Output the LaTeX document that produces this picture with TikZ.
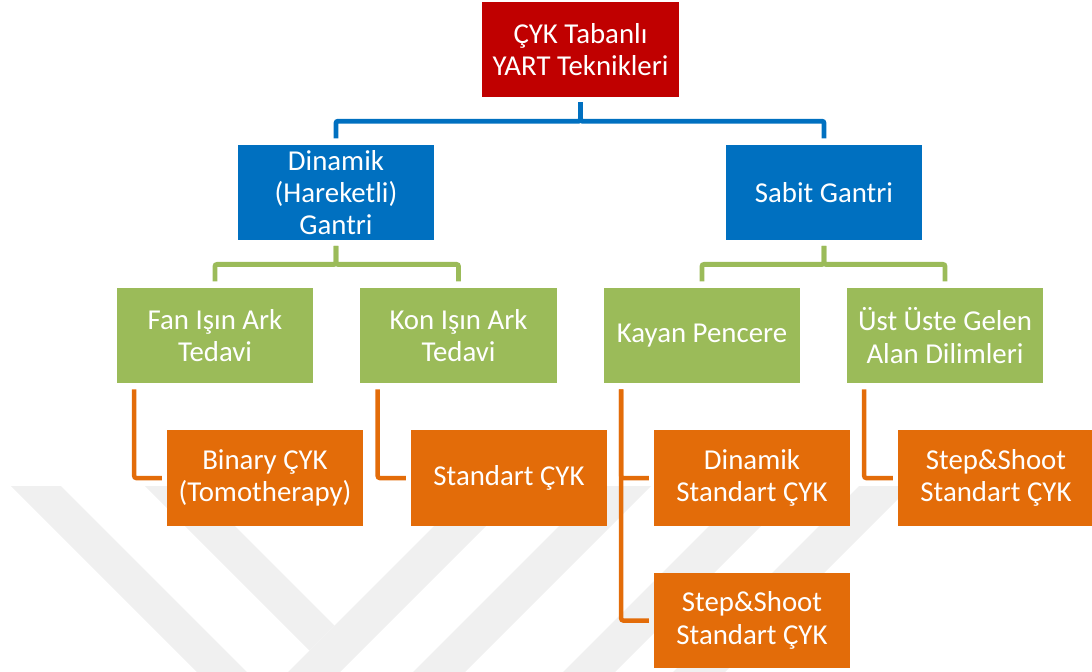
\documentclass[tikz,border=0pt]{standalone}
\usepackage{fontspec}
\setmainfont{Carlito}
\usetikzlibrary{calc}
\definecolor{kirmizi}{HTML}{C00000}
\definecolor{mavi}{HTML}{0070C0}
\definecolor{yesil}{HTML}{9BBB59}
\definecolor{turuncu}{HTML}{E36C09}
\definecolor{filigran}{HTML}{F0F0F0}
\begin{document}
\begin{tikzpicture}[x=0.025cm,y=-0.025cm,
    kutu/.style={minimum width=4.9cm,minimum height=2.375cm,inner sep=0pt,
      align=center,text=white,font=\fontsize{20.5}{23}\selectfont},
    kokkutu/.style={kutu,fill=kirmizi},
    mavikutu/.style={kutu,fill=mavi},
    yesilkutu/.style={kutu,fill=yesil},
    turuncukutu/.style={kutu,fill=turuncu},
    bag/.style={line width=3.5pt,rounded corners=1.5pt},
    mavibag/.style={bag,draw=mavi},
    yesilbag/.style={bag,draw=yesil},
    turuncubag/.style={bag,draw=turuncu,line width=3.2pt}]
    \useasboundingbox (0,0) rectangle (1092,671);
    % filigran
    \begin{scope}
        \clip (0,486) rectangle (900,671);
        \fill[filigran] (11,486)--(61,486)--(275,700)--(225,700)--cycle;
        \fill[filigran] (145,486)--(195,486)--(334.5,625.5)--(309.5,650.5)--cycle;
        \fill[filigran] (474,486)--(526,486)--(312,700)--(260,700)--cycle;
        \fill[filigran] (599,486)--(651,486)--(437,700)--(385,700)--cycle;
        \fill[filigran] (749,486)--(801,486)--(587,700)--(535,700)--cycle;
        \fill[filigran] (859,486)--(911,486)--(697,700)--(645,700)--cycle;
    \end{scope}
    \node[kokkutu] (kok) at (580.5,49.5) {ÇYK Tabanlı\\YART Teknikleri};
    \node[mavikutu] (dinamik) at (336,192.5) {Dinamik\\(Hareketli)\\Gantri};
    \node[mavikutu] (sabit) at (824,192.5) {Sabit Gantri};
    \node[yesilkutu] (fan) at (215,335.5) {Fan Işın Ark\\Tedavi};
    \node[yesilkutu] (kon) at (458.5,335.5) {Kon Işın Ark\\Tedavi};
    \node[yesilkutu] (kayan) at (702,335.5) {Kayan Pencere};
    \node[yesilkutu] (ust) at (945,335.5) {Üst Üste Gelen\\Alan Dilimleri};
    \node[turuncukutu] (binary) at (265,478) {Binary ÇYK\\(Tomotherapy)};
    \node[turuncukutu] (standart) at (509,478) {Standart ÇYK};
    \node[turuncukutu] (dinstd) at (752,478) {Dinamik\\Standart ÇYK};
    \node[turuncukutu] (adimsag) at (996,478) {Step\&Shoot\\Standart ÇYK};
    \node[turuncukutu] (adimalt) at (752,620.5) {Step\&Shoot\\Standart ÇYK};
    \foreach \ust/\alt in {kok/dinamik,kok/sabit}
    \draw[mavibag] ([yshift=-3.5pt]\ust.south) -- ++(0,19) -| ([yshift=4.5pt]\alt.north);
    \foreach \ust/\alt in {dinamik/fan,dinamik/kon,sabit/kayan,sabit/ust}
    \draw[yesilbag] ([yshift=-4pt]\ust.south) -- ++(0,18.5) -| ([yshift=4.5pt]\alt.north);
    \foreach \ust/\alt in {fan/binary,kon/standart,kayan/dinstd,kayan/adimalt,ust/adimsag}
    \draw[turuncubag] ($(\ust.south west)+(17.5,6)$) |- ([xshift=-3.5pt]\alt.west);
\end{tikzpicture}
\end{document}
